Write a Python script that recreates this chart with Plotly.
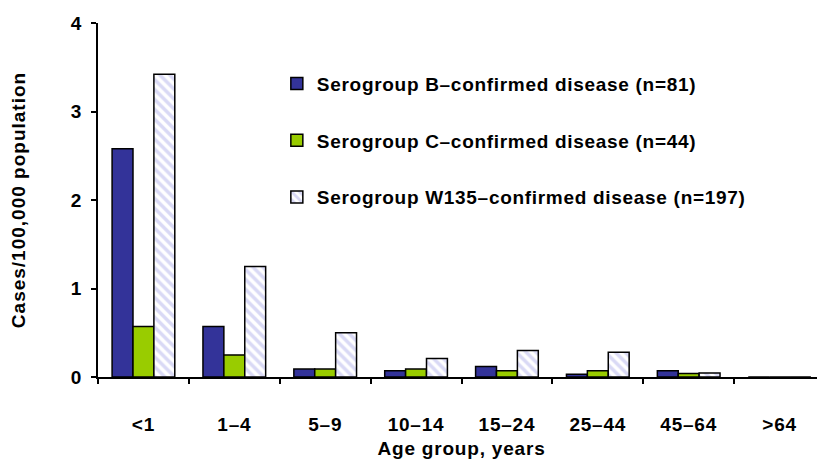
import plotly.graph_objects as go

age_groups = ["<1", "1–4", "5–9", "10–14", "15–24", "25–44", "45–64", ">64"]
serogroup_b = [2.58, 0.57, 0.09, 0.07, 0.12, 0.03, 0.07, 0.0]
serogroup_c = [0.57, 0.25, 0.09, 0.09, 0.07, 0.07, 0.04, 0.0]
serogroup_w135 = [3.42, 1.25, 0.50, 0.21, 0.30, 0.28, 0.045, 0.0]
series_names = [
    "Serogroup B–confirmed disease (n=81)",
    "Serogroup C–confirmed disease (n=44)",
    "Serogroup W135–confirmed disease (n=197)",
]
y_ticks = [0, 1, 2, 3, 4]
x_title = "Age group, years"
y_title = "Cases/100,000 population"

FONT = "Liberation Sans, Arial, sans-serif"
FS = 19


def sp(t, px=0.8):
    return f'<span style="letter-spacing:{px}px">{t}</span>'


fig = go.Figure()
fig.add_trace(go.Bar(
    x=age_groups, y=serogroup_b, name=sp(series_names[0], 0.7), legendgroup="b",
    marker=dict(color="#333399", line=dict(color="black", width=1.5)),
))
fig.add_trace(go.Bar(
    x=age_groups, y=serogroup_c, name=sp(series_names[1], 0.7), legendgroup="c",
    marker=dict(color="#99cc00", line=dict(color="black", width=1.5)),
))
fig.add_trace(go.Bar(
    x=age_groups, y=serogroup_w135, name=sp(series_names[2], 0.7), legendgroup="w",
    marker=dict(color="white", line=dict(color="black", width=1.5),
                pattern=dict(shape="\\", fgcolor="#b4b4ec", bgcolor="white",
                             size=7, solidity=0.5)),
))

# the page body adds an 8px offset, so the figure is 8px smaller each way
fig.update_layout(
    width=817, height=451,
    margin=dict(l=90, r=0, t=15, b=82),
    paper_bgcolor="white", plot_bgcolor="white",
    barmode="group", bargap=0.31, bargroupgap=0,
    font=dict(family=FONT, size=FS, color="black", weight="bold"),
    showlegend=True,
    legend=dict(
        x=0.246, y=0.882, xanchor="left", yanchor="top",
        bgcolor="rgba(0,0,0,0)", tracegroupgap=29,
        font=dict(family=FONT, size=FS, color="black", weight="bold"),
        itemwidth=30,
    ),
    xaxis=dict(
        type="category",
        automargin=False,
        tickvals=age_groups,
        ticktext=[sp(a) for a in age_groups],
        tickson="boundaries",
        ticks="outside", ticklen=5, tickwidth=1.5, tickcolor="black",
        showline=True, linecolor="black", linewidth=2,
        showgrid=False, zeroline=False,
        ticklabelstandoff=29,
        tickfont=dict(family=FONT, size=FS, color="black", weight="bold"),
        title=dict(text=sp(x_title), standoff=8,
                   font=dict(family=FONT, size=FS, color="black", weight="bold")),
    ),
    yaxis=dict(
        range=[0, 4],
        automargin=False,
        tickvals=y_ticks,
        ticks="outside", ticklen=5, tickwidth=1.5, tickcolor="black",
        showline=True, linecolor="black", linewidth=1.5,
        showgrid=False, zeroline=False,
        ticklabelstandoff=6,
        tickfont=dict(family=FONT, size=FS, color="black", weight="bold"),
        title=dict(text=sp(y_title, 1.0), standoff=40,
                   font=dict(family=FONT, size=FS, color="black", weight="bold")),
    ),
)

fig.write_html("out.html")
